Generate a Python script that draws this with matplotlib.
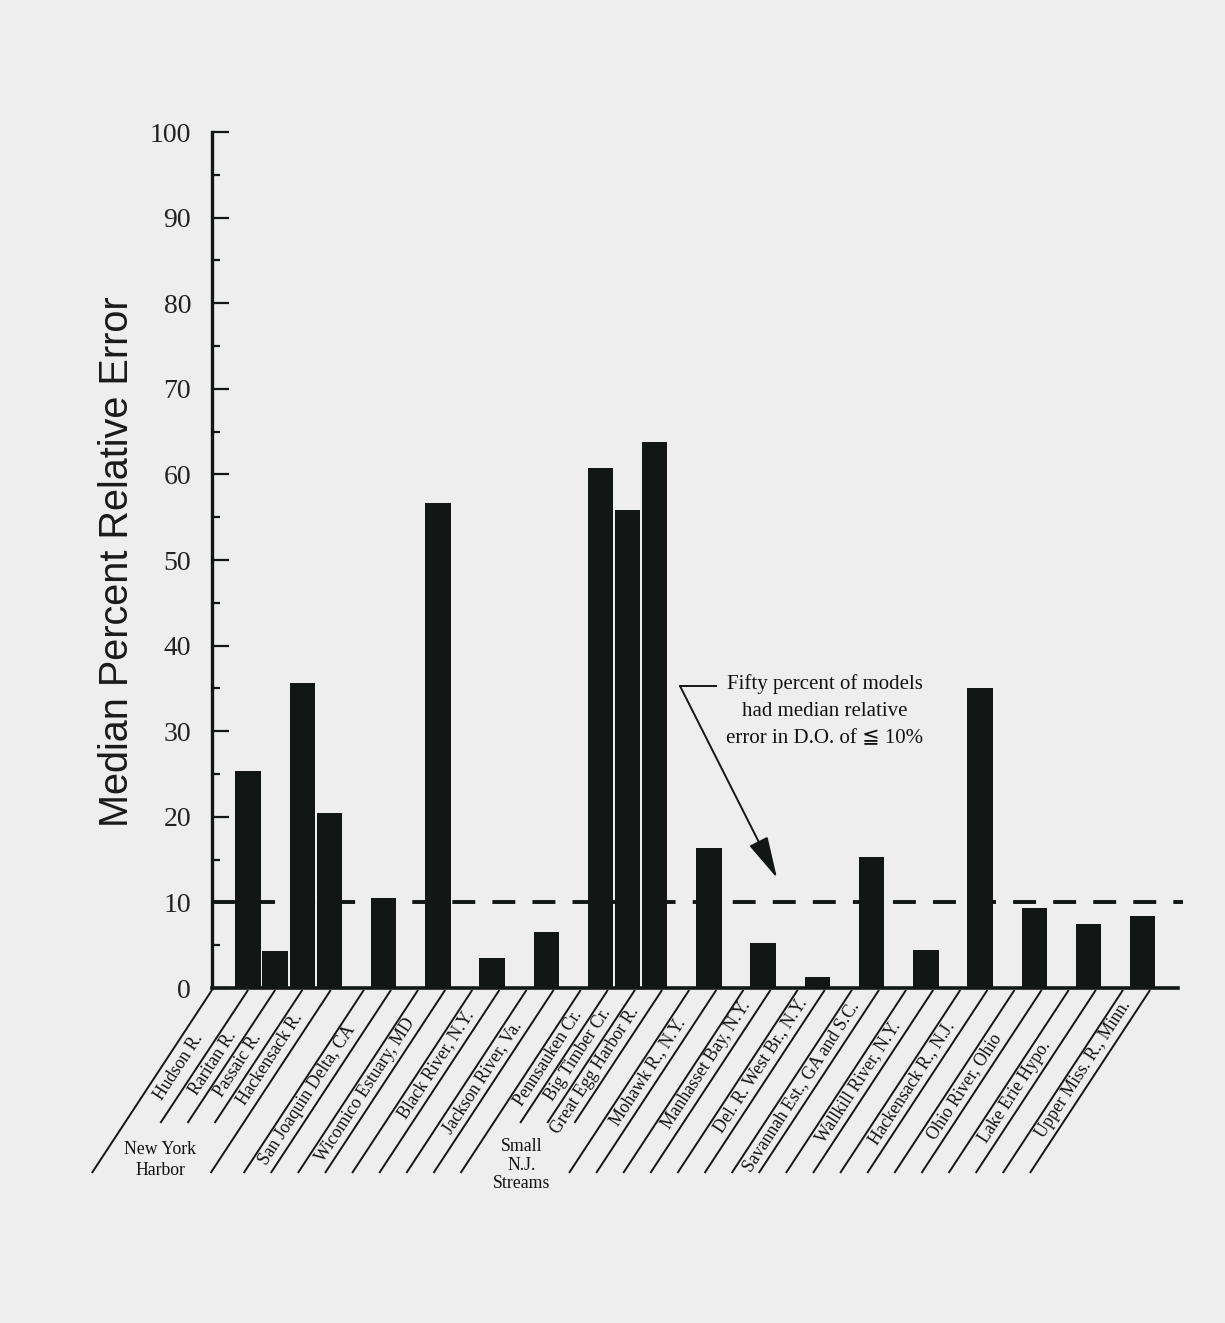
import matplotlib
matplotlib.use("Agg")
import matplotlib.pyplot as plt
import numpy as np

# ---- data -------------------------------------------------------------
sites = [
    "Hudson R.", "Raritan R.", "Passaic R.", "Hackensack R.",
    "San Joaquin Delta, CA", "Wicomico Estuary, MD", "Black River, N.Y.",
    "Jackson River, Va.", "Pennsauken Cr.", "Big Timber Cr.",
    "Great Egg Harbor R.", "Mohawk R., N.Y.", "Manhasset Bay, N.Y.",
    "Del. R. West Br., N.Y.", "Savannah Est., GA and S.C.",
    "Wallkill River, N.Y.", "Hackensack R., N.J.", "Ohio River, Ohio",
    "Lake Erie Hypo.", "Upper Miss. R., Minn.",
]
median_error = [25.4, 4.3, 35.6, 20.5, 10.5, 56.7, 3.5, 6.5, 60.8, 55.8,
                63.8, 16.3, 5.3, 1.3, 15.3, 4.4, 35.0, 9.4, 7.5, 8.4]
site_group = (["New York\nHarbor"] * 4 + [None] * 4 +
              ["Small\nN.J.\nStreams"] * 3 + [None] * 9)
threshold = 10
note = "Fifty percent of models\nhad median relative\nerror in D.O. of \u2266 10%"
y_ticks = list(range(0, 101, 10))

# ---- layout -----------------------------------------------------------
W, H = 1225, 1323
INK = "#121614"
SERIF = ["Liberation Serif", "DejaVu Serif", "DejaVu Sans"]
SLOPE = 1.54          # vertical px per horizontal px of the slanted label bands
ANGLE = np.degrees(np.arctan(SLOPE))
# how far below the axis each rotated label ends (pixels)
label_drop_px = [47, 45, 47, 27, 39, 32, 24, 34, 24, 22, 20, 32, 15, 12, 15,
                 35, 35, 47, 54, 14]

# bar slots: members of a group sit side by side, others get a gap
slots = []
pos = 0
for i, g in enumerate(site_group):
    if i > 0:
        pos += 1 if (g is not None and g == site_group[i - 1]) else 2
    slots.append(pos)

fig = plt.figure(figsize=(W / 100, H / 100), dpi=100)
fig.patch.set_facecolor("#eeeeee")
ax = fig.add_axes([212 / W, 1 - 988 / H, (1178 - 212) / W, (988 - 132) / H])
ax.set_facecolor("none")
x_left, x_right = -1.33, 34.3
ax.set_xlim(x_left, x_right)
ax.set_ylim(0, 100)

ax.bar(slots, median_error, width=0.94, color=INK, zorder=2)

# dashed reference line
ax.plot([x_left, x_right + 0.2], [threshold, threshold], color=INK, lw=2.8,
        dashes=(5.9, 4.4), clip_on=False, zorder=3)

# axes styling
for s in ("top", "right"):
    ax.spines[s].set_visible(False)
ax.spines["left"].set_linewidth(2.4)
ax.spines["bottom"].set_linewidth(2.6)
ax.spines["left"].set_color(INK)
ax.spines["bottom"].set_color(INK)
ax.set_xticks([])
ax.set_yticks(y_ticks)
ax.set_yticks(np.arange(5, 100, 10), minor=True)
ax.tick_params(axis="y", which="major", direction="in", length=12,
               width=1.6, color=INK, pad=15)
ax.tick_params(axis="y", which="minor", direction="in", length=6,
               width=1.6, color=INK)
for lab in ax.get_yticklabels():
    lab.set_fontfamily(SERIF)
    lab.set_fontsize(20)
    lab.set_color("#222222")

fig.text(117 / W, 1 - 562 / H, "Median Percent Relative Error",
         rotation=90, ha="center", va="center", fontsize=28.5,
         family="Liberation Sans", color="#1a1a1a")

inv = ax.transData.inverted()


def img_to_data(px, py):
    return inv.transform((px, H - py))


def data_to_img(x, y):
    dx, dy = ax.transData.transform((x, y))
    return dx, H - dy


AXIS_Y = data_to_img(0, 0)[1]

# slanted band dividers under the axis: (position, long?)
dividers = [(x_left, True), (0, False), (1, False), (2, False), (3.05, True)]
for k in range(4, 34):
    dividers.append((k + 0.27, k not in (13, 14, 15)))

for xd, is_long in dividers:
    px0, _ = data_to_img(xd, 0)
    drop = 185 if is_long else 135
    x0, y0 = img_to_data(px0, AXIS_Y + 2)
    x1, y1 = img_to_data(px0 - drop / SLOPE, AXIS_Y + drop)
    ax.plot([x0, x1], [y0, y1], color=INK, lw=1.4, clip_on=False,
            solid_capstyle="butt", zorder=1)

# category labels, each centred in its band
div_pos = [d[0] for d in dividers]
for name, s, drop in zip(sites, slots, label_drop_px):
    right = min(p for p in div_pos if p >= s)
    left = max(p for p in div_pos if p < right)
    cx, _ = data_to_img((left + right) / 2, 0)
    ax_, ay_ = img_to_data(cx - drop / SLOPE, AXIS_Y + drop)
    ax.text(ax_, ay_, name, rotation=ANGLE, rotation_mode="anchor",
            ha="right", va="center", fontsize=12.8, family=SERIF,
            color="#111111", clip_on=False)

# group captions at the foot of their bands
group_centres = {"New York\nHarbor": (160, 1160, 1.35),
                 "Small\nN.J.\nStreams": (522, 1165, 1.15)}
for g, (gx, gy, ls) in group_centres.items():
    x, y = img_to_data(gx, gy)
    ax.text(x, y, g, ha="center", va="center", fontsize=12.8, family=SERIF,
            linespacing=ls, color="#111111", clip_on=False)

# annotation with leader and arrow
tx, ty = img_to_data(825, 711)
ax.text(tx, ty, note, ha="center", va="center", multialignment="center",
        fontsize=15, family=SERIF, linespacing=1.6, color="#111111")
k0 = img_to_data(716, 686)
k1 = img_to_data(680, 686)
tip = img_to_data(777, 878)
ax.plot([k0[0], k1[0]], [k0[1], k1[1]], color=INK, lw=1.4)
ax.annotate("", xy=tip, xytext=k1,
            arrowprops=dict(arrowstyle="-|>,head_length=1.3,head_width=0.32",
                            color=INK, lw=1.4, mutation_scale=20,
                            shrinkA=0, shrinkB=0))

fig.savefig("out.png", dpi=100, facecolor=fig.get_facecolor())
